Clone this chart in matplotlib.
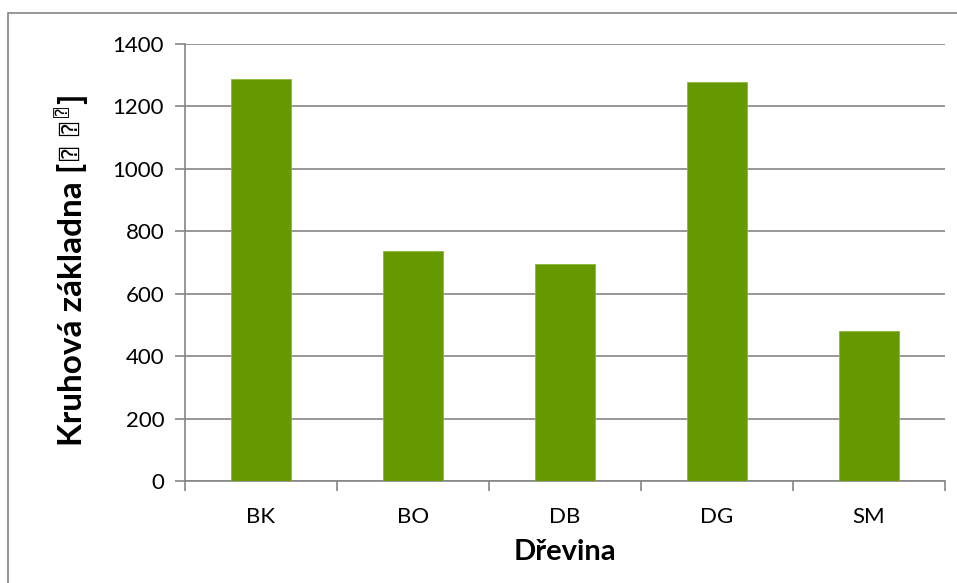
import matplotlib
matplotlib.use("Agg")
import matplotlib.pyplot as plt
from matplotlib.patches import Rectangle

# basal area per tree species
species = ["BK", "BO", "DB", "DG", "SM"]
basal_area = [1287, 737, 694, 1277, 479]
y_ticks = [0, 200, 400, 600, 800, 1000, 1200, 1400]

plt.rcParams["font.family"] = ["Lato", "DejaVu Sans", "DejaVu Sans Mono"]

grey = "#868686"
W, H = 957, 583
fig = plt.figure(figsize=(W / 100, H / 100), dpi=100)
fig.patches.append(Rectangle((8 / W, -0.1), 2, 1.1 - 13 / H, transform=fig.transFigure,
                             fill=False, edgecolor=grey, linewidth=1.2))

ax = fig.add_axes([185 / W, (H - 481) / H, 760 / W, 437 / H])
x = range(len(species))
ax.bar(x, basal_area, width=0.4, color="#669900", edgecolor="#8ab83a", linewidth=0.6,
       zorder=3)

ax.set_xlim(-0.5, len(species) - 0.5)
ax.set_ylim(0, 1400)
ax.set_yticks(y_ticks)
ax.set_xticks(list(x))
ax.set_xticklabels(species)
ax.set_xticks([i - 0.5 for i in range(len(species) + 1)], minor=True)
ax.tick_params(axis="x", which="major", length=0, pad=19, labelsize=16)
ax.tick_params(axis="x", which="minor", length=7, width=1.2, color=grey, direction="out")
ax.tick_params(axis="y", length=7, width=1.2, color=grey, labelsize=16, pad=8)
ax.grid(axis="y", color=grey, linewidth=1.2, zorder=0)

for side in ["top", "right"]:
    ax.spines[side].set_visible(False)
for side in ["left", "bottom"]:
    ax.spines[side].set_color(grey)
    ax.spines[side].set_linewidth(1.2)

fig.text(565 / W, 1 - 552 / H, "Dřevina", ha="center", va="center",
         fontsize=21, fontweight="bold")

# y label: unit glyphs with a superscript part, built from pieces
# (text, size, weight, x offset, gap before)
lab_x = 72
parts = [("Kruhová základna [", 24, "bold", 0, 0),
         ("⍰  ⍰", 16, "normal", 0, 3),
         ("⍰", 12, "normal", -9, 5),
         ("]", 24, "bold", 0, 3)]
texts = [fig.text(0, 0, s, rotation=90, ha="center", va="bottom", fontsize=fs,
                  fontweight=fw, transform=None) for s, fs, fw, dx, gap in parts]
fig.canvas.draw()
r = fig.canvas.get_renderer()
heights = [t.get_window_extent(r).height for t in texts]
total = sum(heights) + sum(p[4] for p in parts)
y = (H - 270) - total / 2
for t, (s, fs, fw, dx, gap), h in zip(texts, parts, heights):
    y += gap
    t.set_position((lab_x + dx, y))
    y += h

fig.savefig("out.png", dpi=100)
